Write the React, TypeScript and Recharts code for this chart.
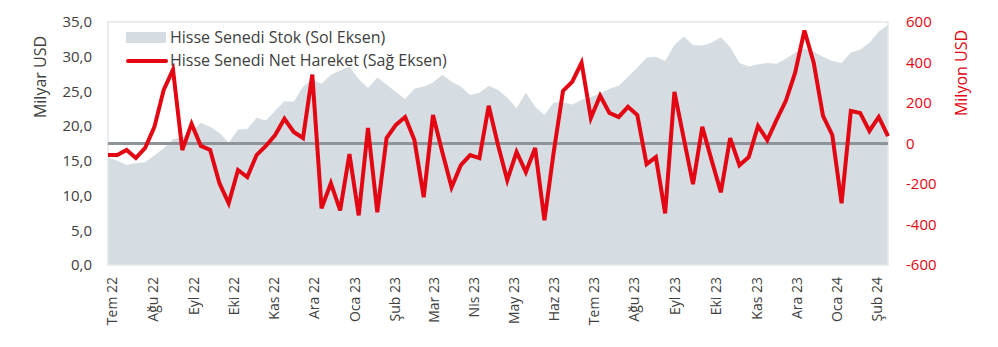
import {
  ComposedChart,
  Area,
  Line,
  XAxis,
  YAxis,
  ReferenceLine,
  ReferenceArea,
} from "recharts";

// haftalık seri, Temmuz 2022 - Şubat 2024
const stockBn = [
  15.5, 15.0, 14.4, 14.7, 14.8, 15.8, 16.8, 18.1, 18.4, 19.2,
  20.5, 19.9, 19.0, 17.6, 19.5, 19.6, 21.2, 20.8, 22.2, 23.6,
  23.5, 25.7, 26.7, 26.1, 27.4, 28.0, 28.6, 26.8, 25.5, 27.0,
  26.0, 24.9, 23.9, 25.4, 25.7, 26.3, 27.4, 26.4, 25.7, 24.5,
  24.8, 25.8, 25.2, 24.1, 22.6, 24.8, 22.8, 21.6, 23.4, 23.4,
  23.1, 23.8, 24.2, 24.7, 25.4, 25.8, 27.1, 28.4, 29.9, 30.0,
  29.4, 31.7, 32.9, 31.7, 31.6, 32.0, 32.8, 31.4, 29.1, 28.6,
  28.9, 29.1, 29.0, 29.7, 30.6, 31.2, 30.7, 30.0, 29.4, 29.1,
  30.6, 31.0, 32.0, 33.6, 34.6,
];

const netMn = [
  -57, -57, -32, -72, -22, 82, 265, 365, -32, 97,
  -12, -32, -196, -295, -131, -166, -57, -12, 42, 122,
  57, 27, 340, -320, -196, -330, -52, -355, 77, -340,
  27, 92, 131, 17, -265, 141, -42, -216, -107, -57,
  -72, 186, -7, -181, -42, -141, -22, -379, -42, 260,
  305, 399, 126, 236, 151, 131, 181, 141, -102, -67,
  -345, 255, 27, -201, 82, -82, -241, 27, -107, -67,
  87, 17, 117, 211, 350, 558, 399, 136, 42, -295,
  161, 151, 62, 131, 37,
];

const monthLabels = [
  "Tem 22", "Ağu 22", "Eyl 22", "Eki 22", "Kas 22", "Ara 22", "Oca 23",
  "Şub 23", "Mar 23", "Nis 23", "May 23", "Haz 23", "Tem 23", "Ağu 23",
  "Eyl 23", "Eki 23", "Kas 23", "Ara 23", "Oca 24", "Şub 24",
];
// ay etiketlerinin hafta ekseni üzerindeki yeri
const monthTicks = [
  0.4, 4.8, 9.2, 13.5, 17.8, 22.1, 26.5, 30.8, 35.1, 39.4,
  43.7, 48.0, 52.3, 56.6, 61.0, 65.4, 69.8, 74.1, 78.4, 82.8,
];

const leftTicks = [0, 5, 10, 15, 20, 25, 30, 35];
const rightTicks = [-600, -400, -200, 0, 200, 400, 600];

const data = stockBn.map((s, i) => ({ i, stock: s, net: netMn[i] }));

const FONT = "'Open Sans', sans-serif";
const GREY_TXT = "#404040";
const RED = "#e30613";

function MonthTick({ x, y, payload }: any) {
  const idx = monthTicks.indexOf(payload.value);
  return (
    <text
      transform={`translate(${x},${y + 4}) rotate(-90)`}
      textAnchor="end"
      dominantBaseline="central"
      fontSize={14}
      fontFamily={FONT}
      fill={GREY_TXT}
    >
      {monthLabels[idx]}
    </text>
  );
}

function LegendBox() {
  return (
    <div
      style={{
        position: "absolute",
        left: 126,
        top: 26,
        fontFamily: FONT,
        fontSize: 16,
        color: GREY_TXT,
        lineHeight: "23px",
        pointerEvents: "none",
      }}
    >
      <div style={{ display: "flex", alignItems: "center" }}>
        <span style={{ width: 40, height: 11, background: "#d5dde3", marginRight: 4 }} />
        Hisse Senedi Stok (Sol Eksen)
      </div>
      <div style={{ display: "flex", alignItems: "center" }}>
        <span style={{ width: 42, height: 4, background: RED, borderRadius: 2, marginRight: 2 }} />
        Hisse Senedi Net Hareket (Sağ Eksen)
      </div>
    </div>
  );
}

export default function App() {
  return (
    <div style={{ position: "absolute", left: 0, top: 0, width: 998, height: 347, background: "#fff" }}>
      <ComposedChart
        width={998}
        height={347}
        data={data}
        margin={{ top: 22, right: 0, bottom: 22, left: 0 }}
      >
        <XAxis
          dataKey="i"
          type="number"
          domain={[0, 84]}
          ticks={monthTicks}
          interval={0}
          axisLine={false}
          tickLine={false}
          height={60}
          tick={<MonthTick />}
        />
        <YAxis
          yAxisId="left"
          width={108}
          domain={[0, 35]}
          ticks={leftTicks}
          axisLine={false}
          tickLine={false}
          tickSize={0}
          tickMargin={16}
          tickFormatter={(v: number) => v.toFixed(1).replace(".", ",")}
          tick={{ fontSize: 15, fontFamily: FONT, fill: GREY_TXT }}
          label={{
            value: "Milyar USD",
            position: "insideTopLeft",
            content: ({ viewBox }: any) => (
              <text
                transform={`translate(${viewBox.x + 40},${viewBox.y + 55}) rotate(-90)`}
                textAnchor="middle"
                dominantBaseline="central"
                fontSize={16}
                fontFamily={FONT}
                fill={GREY_TXT}
              >
                Milyar USD
              </text>
            ),
          }}
        />
        <YAxis
          yAxisId="right"
          orientation="right"
          width={110}
          domain={[-600, 600]}
          ticks={rightTicks}
          axisLine={false}
          tickLine={false}
          tickSize={0}
          tickMargin={18}
          tick={{ fontSize: 15, fontFamily: FONT, fill: RED, textAnchor: "start" }}
          label={{
            value: "Milyon USD",
            position: "insideTopRight",
            content: ({ viewBox }: any) => (
              <text
                transform={`translate(${viewBox.x + 73},${viewBox.y + 51}) rotate(-90)`}
                textAnchor="middle"
                dominantBaseline="central"
                fontSize={16}
                fontFamily={FONT}
                fill={RED}
              >
                Milyon USD
              </text>
            ),
          }}
        />
        <Area
          yAxisId="left"
          dataKey="stock"
          type="linear"
          fill="#d5dde3"
          fillOpacity={1}
          stroke="none"
          isAnimationActive={false}
        />
        <ReferenceArea
          yAxisId="left"
          x1={0}
          x2={84}
          y1={0}
          y2={35}
          fill="none"
          stroke="#e3e7ea"
          strokeWidth={1.5}
        />
        <ReferenceLine yAxisId="right" y={0} stroke="#8f949a" strokeWidth={3} />
        <Line
          yAxisId="right"
          dataKey="net"
          type="linear"
          stroke={RED}
          strokeWidth={4}
          dot={false}
          isAnimationActive={false}
        />
      </ComposedChart>
      <LegendBox />
    </div>
  );
}
